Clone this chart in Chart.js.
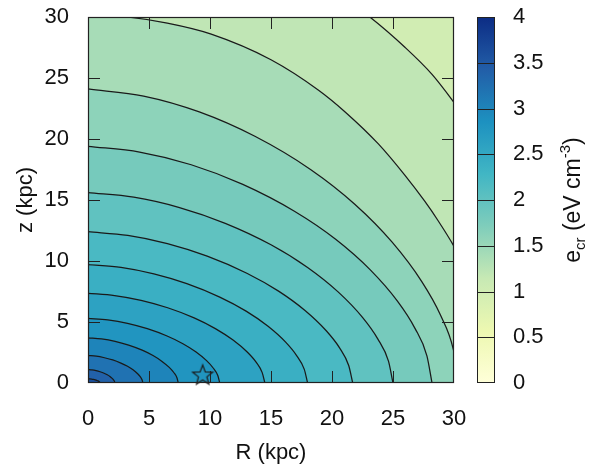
<!DOCTYPE html>
<html>
<head>
<meta charset="utf-8">
<script src="https://cdn.jsdelivr.net/npm/chart.js@4.4.1/dist/chart.umd.min.js"></script>
<style>
  html, body { margin: 0; padding: 0; background: #fff; }
  #wrap { width: 592px; height: 471px; }
</style>
</head>
<body>
<div id="wrap"><canvas id="chart" width="592" height="471"></canvas></div>
<script>
// Contour levels of e_cr (eV cm^-3), innermost first
const contourLevels = [3.5, 3.3, 3.1, 2.9, 2.7, 2.5, 2.3, 2.1, 1.9, 1.7, 1.5, 1.3, 1.1];

// Contour lines, R (kpc) ...
const contourR = [
    [0, 0.15, 0.3, 0.45, 0.6, 0.72, 0.82, 0.9, 0.95, 0.985, 1.0],
    [0, 0.33, 0.66, 0.99, 1.32, 1.58, 1.80, 1.98, 2.09, 2.17, 2.2],
    [0, 0.68, 1.35, 2.03, 2.7, 3.24, 3.69, 4.05, 4.28, 4.43, 4.5],
    [0, 1.11, 2.22, 3.33, 4.44, 5.33, 6.07, 6.66, 7.03, 7.29, 7.4],
    [0, 1.62, 3.24, 4.86, 6.48, 7.78, 8.86, 9.72, 10.26, 10.64, 10.8],
    [0, 2.18, 4.35, 6.53, 8.7, 10.44, 11.89, 13.05, 13.78, 14.28, 14.5],
    [0, 2.7, 5.4, 8.1, 10.8, 12.96, 14.76, 16.2, 17.1, 17.73, 18.0],
    [0, 3.26, 6.51, 9.77, 13.02, 15.62, 17.79, 19.53, 20.62, 21.37, 21.7],
    [0, 3.75, 7.5, 11.25, 15.0, 18.0, 20.5, 22.5, 23.75, 24.63, 25.0],
    [0, 4.23, 8.46, 12.69, 16.92, 20.3, 23.12, 25.38, 26.79, 27.78, 28.2],
    [0, 4.56, 9.12, 13.68, 18.24, 21.89, 24.93, 27.36, 28.88, 29.94, 30.4],
    [0, 3.2, 6.5, 10.1, 15, 18.9, 21.1, 23.8, 26, 27.6, 28.7, 30, 31.5, 32.8, 33.6, 33.8],
    [0, 8, 15, 20, 23.1, 26, 28.2, 30, 32, 34, 36, 37.2, 37.5]
];
// ... and z (kpc)
const contourZ = [
    [0.35, 0.34, 0.32, 0.29, 0.25, 0.21, 0.17, 0.12, 0.08, 0.04, 0],
    [1.1, 1.07, 1.01, 0.92, 0.80, 0.67, 0.53, 0.38, 0.26, 0.13, 0],
    [2.25, 2.2, 2.07, 1.89, 1.63, 1.37, 1.08, 0.78, 0.52, 0.26, 0],
    [3.7, 3.61, 3.41, 3.1, 2.69, 2.25, 1.77, 1.28, 0.86, 0.43, 0],
    [5.3, 5.17, 4.89, 4.45, 3.85, 3.22, 2.54, 1.83, 1.23, 0.61, 0],
    [7.35, 7.17, 6.78, 6.17, 5.34, 4.46, 3.52, 2.54, 1.71, 0.85, 0],
    [9.7, 9.47, 8.94, 8.14, 7.04, 5.89, 4.65, 3.35, 2.25, 1.12, 0],
    [12.4, 12.1, 11.43, 10.4, 9.0, 7.53, 5.94, 4.28, 2.88, 1.43, 0],
    [15.6, 15.23, 14.38, 13.09, 11.33, 9.47, 7.47, 5.38, 3.62, 1.79, 0],
    [19.4, 18.93, 17.89, 16.28, 14.08, 11.78, 9.29, 6.69, 4.5, 2.23, 0],
    [24.1, 23.52, 22.22, 20.22, 17.5, 14.63, 11.54, 8.31, 5.59, 2.77, 0],
    [30.2, 30.0, 29.5, 28.6, 26.5, 24.0, 22.2, 19.6, 17.0, 14.9, 13.3, 11.2, 8.3, 5.0, 2.0, 0],
    [38, 37, 34.5, 32.2, 30, 27.5, 25.3, 23.0, 20.2, 16.5, 11, 5, 0]
];

// Sun position (star marker)
const sunR = [9.4];
const sunZ = [0.7];

// Axes and colour bar
const axisRange = [0, 30];
const axisStep = 5;
const cbRange = [0, 4];
const cbStep = 0.5;
const paletteStops = ['#ffffd9', '#edf8b1', '#c7e9b4', '#7fcdbb', '#41b6c4', '#1d91c0', '#225ea8', '#0c2c84'];

const FONT = 'Liberation Sans';
const INK = '#111';

function hexToRgb(h) {
    const n = parseInt(h.slice(1), 16);
    return [(n >> 16) & 255, (n >> 8) & 255, n & 255];
}

function colorAt(v) {
    const last = paletteStops.length - 1;
    const t = Math.min(Math.max((v - cbRange[0]) / (cbRange[1] - cbRange[0]), 0), 1) * last;
    const i = Math.min(Math.floor(t), last - 1);
    const f = t - i;
    const a = hexToRgb(paletteStops[i]);
    const b = hexToRgb(paletteStops[i + 1]);
    const c = a.map((ai, k) => Math.round(ai + (b[k] - ai) * f));
    return `rgb(${c[0]}, ${c[1]}, ${c[2]})`;
}

// outlined five-point star used as the point style
function makeStar(size) {
    const c = document.createElement('canvas');
    c.width = c.height = size;
    const g = c.getContext('2d');
    const cx = size / 2, cy = size / 2 + 1;
    const ro = size / 2 - 1.5, ri = ro * 0.42;
    g.beginPath();
    for (let k = 0; k < 10; k++) {
        const a = -Math.PI / 2 + k * Math.PI / 5;
        const r = k % 2 ? ri : ro;
        g.lineTo(cx + r * Math.cos(a), cy + r * Math.sin(a));
    }
    g.closePath();
    g.strokeStyle = '#1a1a1a';
    g.lineWidth = 1.2;
    g.stroke();
    return c;
}

// background, frame with inward ticks, colour bar
const decorPlugin = {
    id: 'decor',
    beforeDatasetsDraw(chart) {
        const { ctx, chartArea: a } = chart;
        ctx.save();
        ctx.fillStyle = colorAt(contourLevels[contourLevels.length - 1] - 0.1);
        ctx.fillRect(a.left, a.top, a.right - a.left, a.bottom - a.top);
        ctx.restore();
    },
    afterDatasetsDraw(chart) {
        const { ctx, chartArea: a, scales } = chart;
        const tl = 12;
        ctx.save();
        ctx.strokeStyle = '#222';
        ctx.lineWidth = 1;

        // inward ticks on all four sides
        ctx.beginPath();
        scales.x.ticks.forEach(t => {
            if (t.value <= axisRange[0] || t.value >= axisRange[1]) return;
            const px = Math.round(scales.x.getPixelForValue(t.value)) + 0.5;
            ctx.moveTo(px, a.bottom); ctx.lineTo(px, a.bottom - tl);
            ctx.moveTo(px, a.top); ctx.lineTo(px, a.top + tl);
        });
        scales.y.ticks.forEach(t => {
            if (t.value <= axisRange[0] || t.value >= axisRange[1]) return;
            const py = Math.round(scales.y.getPixelForValue(t.value)) + 0.5;
            ctx.moveTo(a.left, py); ctx.lineTo(a.left + tl, py);
            ctx.moveTo(a.right, py); ctx.lineTo(a.right - tl, py);
        });
        ctx.stroke();

        ctx.lineWidth = 1.2;
        ctx.strokeRect(a.left + 0.5, a.top + 0.5, a.right - a.left - 1, a.bottom - a.top - 1);

        // colour bar
        const cb = scales.cb;
        const bx0 = a.right + 23, bx1 = a.right + 41;
        const by0 = cb.getPixelForValue(cbRange[1]);
        const by1 = cb.getPixelForValue(cbRange[0]);
        const grad = ctx.createLinearGradient(0, by1, 0, by0);
        paletteStops.forEach((c, i) => grad.addColorStop(i / (paletteStops.length - 1), c));
        ctx.fillStyle = grad;
        ctx.fillRect(bx0, by0, bx1 - bx0, by1 - by0);

        ctx.lineWidth = 1;
        ctx.beginPath();
        cb.ticks.forEach(t => {
            if (t.value <= cbRange[0] || t.value >= cbRange[1]) return;
            const py = Math.round(cb.getPixelForValue(t.value)) + 0.5;
            ctx.moveTo(bx0, py); ctx.lineTo(bx1, py);
        });
        ctx.stroke();
        ctx.strokeRect(bx0 + 0.5, by0 + 0.5, bx1 - bx0 - 1, by1 - by0 - 1);

        // colour bar title: e_cr (eV cm^-3)
        const parts = [
            { t: 'e', size: 23, dy: 0 },
            { t: 'cr', size: 15, dy: 5 },
            { t: ' (eV cm', size: 23, dy: 0 },
            { t: '-3', size: 15, dy: -10 },
            { t: ')', size: 23, dy: 0 }
        ];
        let total = 0;
        parts.forEach(p => {
            ctx.font = `${p.size}px "${FONT}"`;
            p.w = ctx.measureText(p.t).width;
            total += p.w;
        });
        ctx.translate(a.right + 118, (by0 + by1) / 2);
        ctx.rotate(-Math.PI / 2);
        ctx.fillStyle = INK;
        ctx.textBaseline = 'alphabetic';
        let x = -total / 2;
        parts.forEach(p => {
            ctx.font = `${p.size}px "${FONT}"`;
            ctx.fillText(p.t, x, 8 + p.dy);
            x += p.w;
        });
        ctx.restore();
    }
};

const datasets = [{
    label: 'Sun',
    data: sunR.map((r, i) => ({ x: r, y: sunZ[i] })),
    showLine: false,
    pointStyle: makeStar(24),
    pointRadius: 12,
    clip: false
}];

contourLevels.forEach((lev, i) => {
    datasets.push({
        label: 'e_cr = ' + lev,
        data: contourR[i].map((r, j) => ({ x: r, y: contourZ[i][j] })),
        borderColor: '#1a1a1a',
        borderWidth: 1.25,
        backgroundColor: colorAt(lev + 0.1),
        fill: 'origin',
        pointRadius: 0,
        cubicInterpolationMode: 'monotone'
    });
});

const tickFont = { family: FONT, size: 22 };

// keep the plot box fixed: no extra padding from tick labels
const noPad = s => { s.paddingTop = 0; s.paddingBottom = 0; s.paddingLeft = 0; s.paddingRight = 0; };

new Chart(document.getElementById('chart'), {
    type: 'line',
    data: { datasets },
    options: {
        responsive: false,
        animation: false,
        events: [],
        layout: { padding: { top: 17, right: 0, bottom: 0, left: 0 } },
        plugins: {
            legend: { display: false },
            tooltip: { enabled: false }
        },
        scales: {
            x: {
                type: 'linear',
                min: axisRange[0], max: axisRange[1],
                grid: { display: false, drawTicks: false },
                border: { display: false },
                ticks: { stepSize: axisStep, color: INK, font: tickFont, padding: 23, maxRotation: 0 },
                title: { display: true, text: 'R (kpc)', color: INK, font: tickFont, padding: { top: 0, bottom: 5 } },
                afterFit: s => { s.height = 88; noPad(s); }
            },
            y: {
                type: 'linear',
                min: axisRange[0], max: axisRange[1],
                grid: { display: false, drawTicks: false },
                border: { display: false },
                ticks: { stepSize: axisStep, color: INK, font: tickFont, padding: 19 },
                title: { display: true, text: 'z (kpc)', color: INK, font: tickFont, padding: { top: 13, bottom: 0 } },
                afterFit: s => { s.width = 88; noPad(s); }
            },
            cb: {
                type: 'linear',
                axis: 'y',
                position: 'right',
                min: cbRange[0], max: cbRange[1],
                grid: { display: false, drawTicks: false },
                border: { display: false },
                ticks: { stepSize: cbStep, color: INK, font: tickFont, padding: 59, callback: v => String(v) },
                afterFit: s => { s.width = 138; noPad(s); }
            }
        }
    },
    plugins: [decorPlugin]
});
</script>
</body>
</html>
